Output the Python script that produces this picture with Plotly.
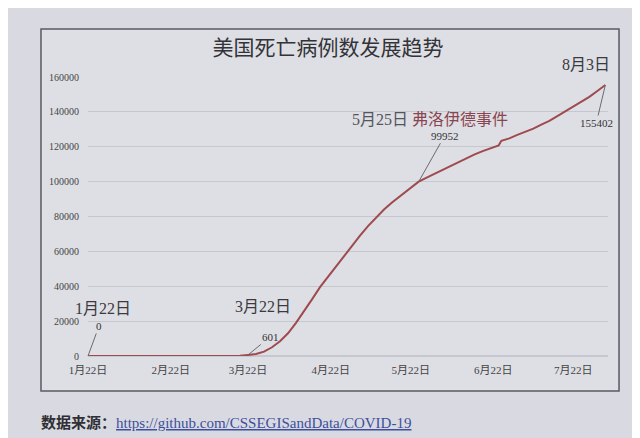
import plotly.graph_objects as go

# ---- data ----
dates = ["2020-01-22", "2020-02-22", "2020-02-29", "2020-03-08", "2020-03-15", "2020-03-19",
         "2020-03-22", "2020-03-25", "2020-03-28", "2020-03-31", "2020-04-03", "2020-04-06",
         "2020-04-09", "2020-04-12", "2020-04-15", "2020-04-18", "2020-04-21", "2020-04-24",
         "2020-04-27", "2020-04-30", "2020-05-03", "2020-05-06", "2020-05-09", "2020-05-12",
         "2020-05-15", "2020-05-18", "2020-05-21", "2020-05-25", "2020-05-28", "2020-05-31",
         "2020-06-03", "2020-06-06", "2020-06-09", "2020-06-12", "2020-06-15", "2020-06-18",
         "2020-06-21", "2020-06-24", "2020-06-25", "2020-06-28", "2020-07-01", "2020-07-04",
         "2020-07-07", "2020-07-10", "2020-07-13", "2020-07-16", "2020-07-19", "2020-07-22",
         "2020-07-25", "2020-07-28", "2020-07-31", "2020-08-03"]
deaths = [0, 0, 1, 21, 64, 200,
          601, 1100, 2500, 5000, 8500, 13000,
          19000, 25500, 32500, 39500, 45500, 51500,
          57500, 63500, 69000, 74500, 79500, 84000,
          88000, 91500, 95000, 99952, 102300, 104500,
          107000, 109300, 111200, 113500, 115600, 117500,
          119300, 120800, 123400, 124800, 126800, 128500,
          130400, 132700, 134800, 137500, 140200, 142800,
          145600, 148600, 152000, 155402]

tick_dates = ["2020-01-22", "2020-02-22", "2020-03-22", "2020-04-22",
              "2020-05-22", "2020-06-22", "2020-07-22"]
tick_labels = ["1月22日", "2月22日", "3月22日", "4月22日", "5月22日", "6月22日", "7月22日"]
y_ticks = [0, 20000, 40000, 60000, 80000, 100000, 120000, 140000, 160000]
y_tick_labels = [str(v) for v in y_ticks]

title_text = "美国死亡病例数发展趋势"
source_label = "数据来源："
source_url = "https://github.com/CSSEGISandData/COVID-19"

# ---- figure ----
SERIF = "Liberation Serif, Noto Sans CJK SC, serif"
BG = "#d9dae1"
BOX = "#dedfe5"

fig = go.Figure()
fig.add_trace(go.Scatter(
    x=dates, y=deaths, mode="lines",
    line=dict(color="#9e4a4e", width=2),
    hoverinfo="skip", showlegend=False,
))

# chart frame
fig.add_shape(type="rect", xref="paper", yref="paper",
              x0=-0.0904, x1=1.0212, y0=-0.1254, y1=1.172,
              line=dict(color="#5a5a62", width=1.5), fillcolor=BOX, layer="below")

def point_label(i, text, ax, ay, size=11):
    fig.add_annotation(x=dates[i], y=deaths[i], text=text, showarrow=True,
                       arrowhead=0, arrowwidth=1, arrowcolor="#6a6a70",
                       ax=ax, ay=ay, font=dict(family=SERIF, size=size, color="#333"),
                       xanchor="center", yanchor="middle")

i0 = 0
i_mar = dates.index("2020-03-22")
i_may = dates.index("2020-05-25")
i_end = len(dates) - 1

point_label(i0, str(deaths[i0]), 11, -30)
point_label(i_mar, str(deaths[i_mar]), 22, -18)
point_label(i_may, str(deaths[i_may]), 26, -46)
point_label(i_end, str(deaths[i_end]), -9, 38)

def date_label(i, text, xs, ys, color="#3a3a40"):
    fig.add_annotation(x=dates[i], y=deaths[i], text=text, showarrow=False,
                       xshift=xs, yshift=ys, font=dict(family=SERIF, size=16, color=color))

date_label(i0, "1月22日", 15, 48)
date_label(i_mar, "3月22日", 15, 48)
date_label(i_end, "8月3日", -19, 21)
fig.add_annotation(x=dates[i_may], y=deaths[i_may],
                   text="<span style='color:#55555c'>5月25日</span> 弗洛伊德事件",
                   showarrow=False, xshift=11, yshift=62,
                   font=dict(family=SERIF, size=16, color="#8a4650"))

fig.update_layout(
    width=640, height=438,
    margin=dict(l=80, r=40, t=69, b=90),
    paper_bgcolor=BG, plot_bgcolor=BOX,
    title=dict(text=title_text, x=0.5, xanchor="center", y=0.91, yanchor="middle",
               font=dict(family="Noto Sans CJK SC, serif", size=21, color="#333338")),
    xaxis=dict(type="date", range=["2020-01-22", "2020-08-04"],
               tickvals=tick_dates, ticktext=tick_labels,
               showgrid=False, zeroline=False, showline=False, ticks="",
               tickfont=dict(family=SERIF, size=11, color="#444"),
               ticklabelstandoff=6),
    yaxis=dict(range=[0, 160000], tickvals=y_ticks, ticktext=y_tick_labels,
               showgrid=True, gridcolor="#c6c7cf", gridwidth=1,
               zeroline=True, zerolinecolor="#c6c7cf", showline=False, ticks="",
               tickfont=dict(family=SERIF, size=10, color="#444"),
               ticklabelstandoff=8),
    annotations=list(fig.layout.annotations) + [
        dict(xref="paper", yref="paper", x=-0.095, y=-0.24, xanchor="left", yanchor="middle",
             showarrow=False,
             text=("<b>" + source_label + "</b>" +
                   "<span style='color:#3d4f9c'><u>" + source_url + "</u></span>"),
             font=dict(family=SERIF, size=15, color="#2e2e34")),
    ],
)

fig.write_html("out.html")
